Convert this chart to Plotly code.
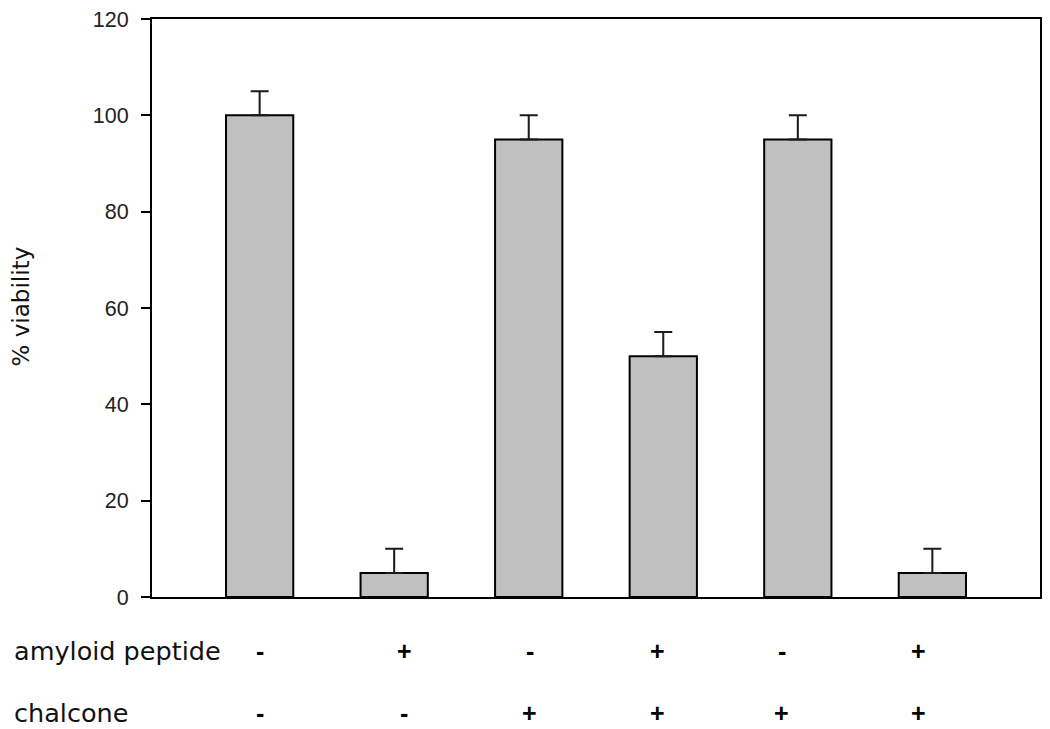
import plotly.graph_objects as go

# ---- data ----
groups = [0, 1, 2, 3, 4, 5]
viability = [100, 5, 95, 50, 95, 5]
errors = [5, 5, 5, 5, 5, 5]
amyloid = ["-", "+", "-", "+", "-", "+"]
chalcone = ["-", "-", "+", "+", "+", "+"]
row_names = ["amyloid peptide", "chalcone"]
y_ticks = [0, 20, 40, 60, 80, 100, 120]

# ---- style ----
sign_xshift = [0, 10, 1, -6, -16, -14]
row_y = [-0.093, -0.201]

fig = go.Figure()
fig.add_trace(go.Bar(
    x=groups, y=viability, width=0.5,
    marker=dict(color="#c0c0c0", line=dict(color="#000000", width=2)),
    error_y=dict(type="data", array=errors, symmetric=False, arrayminus=[0]*6,
                 color="#1a1a1a", thickness=2, width=9),
    showlegend=False,
))

annotations = []
for name, signs, ry in zip(row_names, [amyloid, chalcone], row_y):
    annotations.append(dict(
        x=-0.158, y=ry, xref="paper", yref="paper", text=name, showarrow=False,
        xanchor="left", yanchor="middle",
        font=dict(family="DejaVu Sans", size=25.5, color="#111111")))
    for g, s, dx in zip(groups, signs, sign_xshift):
        annotations.append(dict(
            x=g, y=ry, xref="x", yref="paper", text="<b>%s</b>" % s, showarrow=False,
            xanchor="center", yanchor="middle", xshift=dx,
            font=dict(family="Liberation Sans", size=25, color="#000000")))

annotations.append(dict(
    x=-0.148, y=0.502, xref="paper", yref="paper", text="% viability",
    showarrow=False, textangle=-90, xanchor="center", yanchor="middle",
    font=dict(family="DejaVu Sans", size=23, color="#111111")))

fig.update_layout(
    width=1050, height=729,
    margin=dict(l=152, r=8, t=15, b=132),
    paper_bgcolor="white", plot_bgcolor="white",
    annotations=annotations,
    xaxis=dict(range=[-0.8, 5.8], showticklabels=False, ticks="", showgrid=False,
               zeroline=False, showline=True, linecolor="#000000", linewidth=2,
               mirror=True, fixedrange=True),
    yaxis=dict(range=[0, 120], tickvals=y_ticks, ticks="outside", ticklen=9,
               tickwidth=2, tickcolor="#000000", showgrid=False, zeroline=False,
               showline=True, linecolor="#000000", linewidth=2, mirror=True,
               ticklabelstandoff=8,
               tickfont=dict(family="Liberation Sans", size=21.5, color="#222222")),
)

fig.write_html(
    "out.html",
    config={"displayModeBar": False},
    post_script="document.body.style.margin='0';document.body.style.overflow='hidden';",
)
